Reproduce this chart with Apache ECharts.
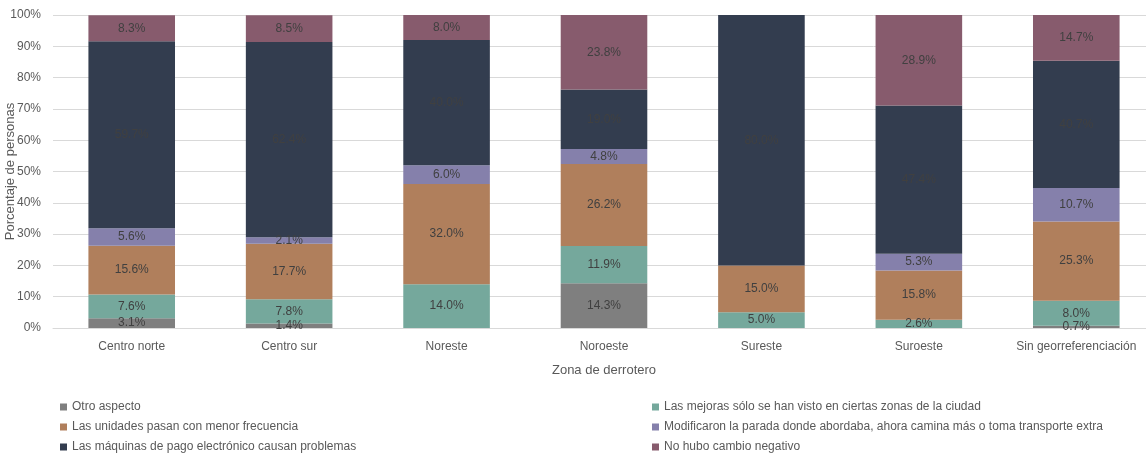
<!DOCTYPE html>
<html>
<head>
<meta charset="utf-8">
<script src="https://cdn.jsdelivr.net/npm/echarts@6/dist/echarts.min.js"></script>
<style>
  html, body { margin: 0; padding: 0; background: #fff; }
  #chart { width: 1146px; height: 454px; }
</style>
</head>
<body>
<div id="chart"></div>
<script>
var categories = ['Centro norte', 'Centro sur', 'Noreste', 'Noroeste', 'Sureste', 'Suroeste', 'Sin georreferenciación'];

var otroAspecto = [3.1, 1.4, 0, 14.3, 0, 0, 0.7];
var mejorasZonas = [7.6, 7.8, 14.0, 11.9, 5.0, 2.6, 8.0];
var menorFrecuencia = [15.6, 17.7, 32.0, 26.2, 15.0, 15.8, 25.3];
var modificaronParada = [5.6, 2.1, 6.0, 4.8, 0, 5.3, 10.7];
var maquinasPago = [59.7, 62.4, 40.0, 19.0, 80.0, 47.4, 40.7];
var noHuboCambio = [8.3, 8.5, 8.0, 23.8, 0, 28.9, 14.7];

var yTicks = [0, 10, 20, 30, 40, 50, 60, 70, 80, 90, 100];

var seriesNames = [
  'Otro aspecto',
  'Las mejoras sólo se han visto en ciertas zonas de la ciudad',
  'Las unidades pasan con menor frecuencia',
  'Modificaron la parada donde abordaba, ahora camina más o toma transporte extra',
  'Las máquinas de pago electrónico causan problemas',
  'No hubo cambio negativo'
];
var seriesData = [otroAspecto, mejorasZonas, menorFrecuencia, modificaronParada, maquinasPago, noHuboCambio];
var colors = ['#7f7f7f', '#75a89c', '#b07f5c', '#8580ab', '#333d4f', '#875b6d'];

var font = 'Liberation Sans';

var myChart = echarts.init(document.getElementById('chart'));

var series = seriesNames.map(function (name, i) {
  return {
    name: name,
    type: 'bar',
    stack: 'total',
    barWidth: '55%',
    data: seriesData[i],
    itemStyle: { color: colors[i] },
    label: {
      show: true,
      position: 'inside',
      color: '#404040',
      fontSize: 12,
      fontFamily: font,
      formatter: function (p) {
        return p.value > 0 ? p.value.toFixed(1) + '%' : '';
      }
    }
  };
});

var legendText = { color: '#595959', fontSize: 12, fontFamily: font };

var option = {
  animation: false,
  color: colors,
  grid: { left: 53, top: 15, width: 1102, height: 313, outerBoundsMode: 'none', containLabel: false },
  legend: [
    {
      orient: 'vertical',
      left: 60, top: 401, padding: 0,
      itemWidth: 7, itemHeight: 7, itemGap: 8,
      icon: 'rect',
      textStyle: legendText,
      data: [seriesNames[0], seriesNames[2], seriesNames[4]]
    },
    {
      orient: 'vertical',
      left: 652, top: 401, padding: 0,
      itemWidth: 7, itemHeight: 7, itemGap: 8,
      icon: 'rect',
      textStyle: legendText,
      data: [seriesNames[1], seriesNames[3], seriesNames[5]]
    }
  ],
  xAxis: {
    type: 'category',
    data: categories,
    name: 'Zona de derrotero',
    nameLocation: 'middle',
    nameGap: 36,
    nameMoveOverlap: false,
    nameTextStyle: { color: '#595959', fontSize: 13, fontFamily: font },
    axisLine: { lineStyle: { color: '#d9d9d9' } },
    axisTick: { show: false },
    axisLabel: { color: '#595959', fontSize: 12, fontFamily: font, margin: 13, interval: 0 }
  },
  yAxis: {
    type: 'value',
    min: yTicks[0],
    max: yTicks[yTicks.length - 1],
    interval: 10,
    name: 'Porcentaje de personas',
    nameLocation: 'middle',
    nameGap: 36,
    nameMoveOverlap: false,
    nameTextStyle: { color: '#595959', fontSize: 13, fontFamily: font },
    axisLabel: { color: '#595959', fontSize: 12, fontFamily: font, formatter: '{value}%', margin: 12 },
    splitLine: { lineStyle: { color: '#d9d9d9', width: 1 } },
    axisLine: { show: false },
    axisTick: { show: false }
  },
  series: series
};

myChart.setOption(option);
</script>
</body>
</html>
